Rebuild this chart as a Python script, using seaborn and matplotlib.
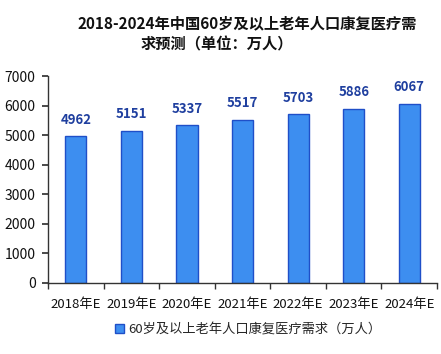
import matplotlib
matplotlib.use("Agg")
import matplotlib.pyplot as plt
import seaborn as sns
import pandas as pd
import numpy as np

categories = ["2018年E", "2019年E", "2020年E", "2021年E", "2022年E", "2023年E", "2024年E"]
values = [4962, 5151, 5337, 5517, 5703, 5886, 6067]
series_name = "60岁及以上老年人口康复医疗需求（万人）"
title_line1 = "2018-2024年中国60岁及以上老年人口康复医疗需"
title_line2 = "求预测（单位：万人）"
yticks = [0, 1000, 2000, 3000, 4000, 5000, 6000, 7000]

sns.set_theme(style="white")
plt.rcParams['font.family'] = ['Noto Sans CJK SC', 'DejaVu Sans']

df = pd.DataFrame({"year": categories, "value": values, "series": series_name})

fig = plt.figure(figsize=(4.41, 3.54), dpi=100)
fig.patch.set_facecolor("white")
ax = fig.add_axes([0.109, 0.2006, 0.882, 0.5844])
sns.barplot(data=df, x="year", y="value", hue="series", palette=["#3d8ef0"],
            width=0.38, edgecolor="#1f4fc8", linewidth=1.0, ax=ax, saturation=1)

for c in ax.containers:
    ax.bar_label(c, labels=[str(v) for v in values], padding=7, color="#1f3f9f",
                 fontsize=9.5, fontweight="bold")

ax.set_ylim(0, 7000)
ax.set_xlim(-0.5, len(categories) - 0.5)
ax.set_yticks(yticks)
ax.set_yticklabels([str(t) for t in yticks], fontsize=10, color="#111111")
ax.tick_params(axis="x", which="major", length=0, labelsize=9.5, pad=11, labelcolor="#111111")
ax.set_xticks(np.arange(-0.5, len(categories)), minor=True)
ax.tick_params(axis="x", which="minor", length=4, direction="out", color="#333333", bottom=True)
ax.tick_params(axis="y", length=4, direction="out", color="#333333", left=True, pad=5)
ax.set_xlabel("")
ax.set_ylabel("")
for s in ["top", "right"]:
    ax.spines[s].set_visible(False)
for s in ["left", "bottom"]:
    ax.spines[s].set_color("#333333")
    ax.spines[s].set_linewidth(1.0)
ax.set_facecolor("white")

fig.text(0.56, 1 - 23 / 354, title_line1, ha="center", va="center", fontsize=11,
         fontweight="bold", color="#111111")
fig.text(0.492, 1 - 44 / 354, title_line2, ha="center", va="center", fontsize=11,
         fontweight="bold", color="#111111")

leg = ax.legend(loc="center", bbox_to_anchor=(0.514, -0.227), frameon=False,
                fontsize=9.5, handlelength=0.7, handleheight=0.7, handletextpad=0.3)

fig.savefig("out.png", dpi=100, facecolor="white")
